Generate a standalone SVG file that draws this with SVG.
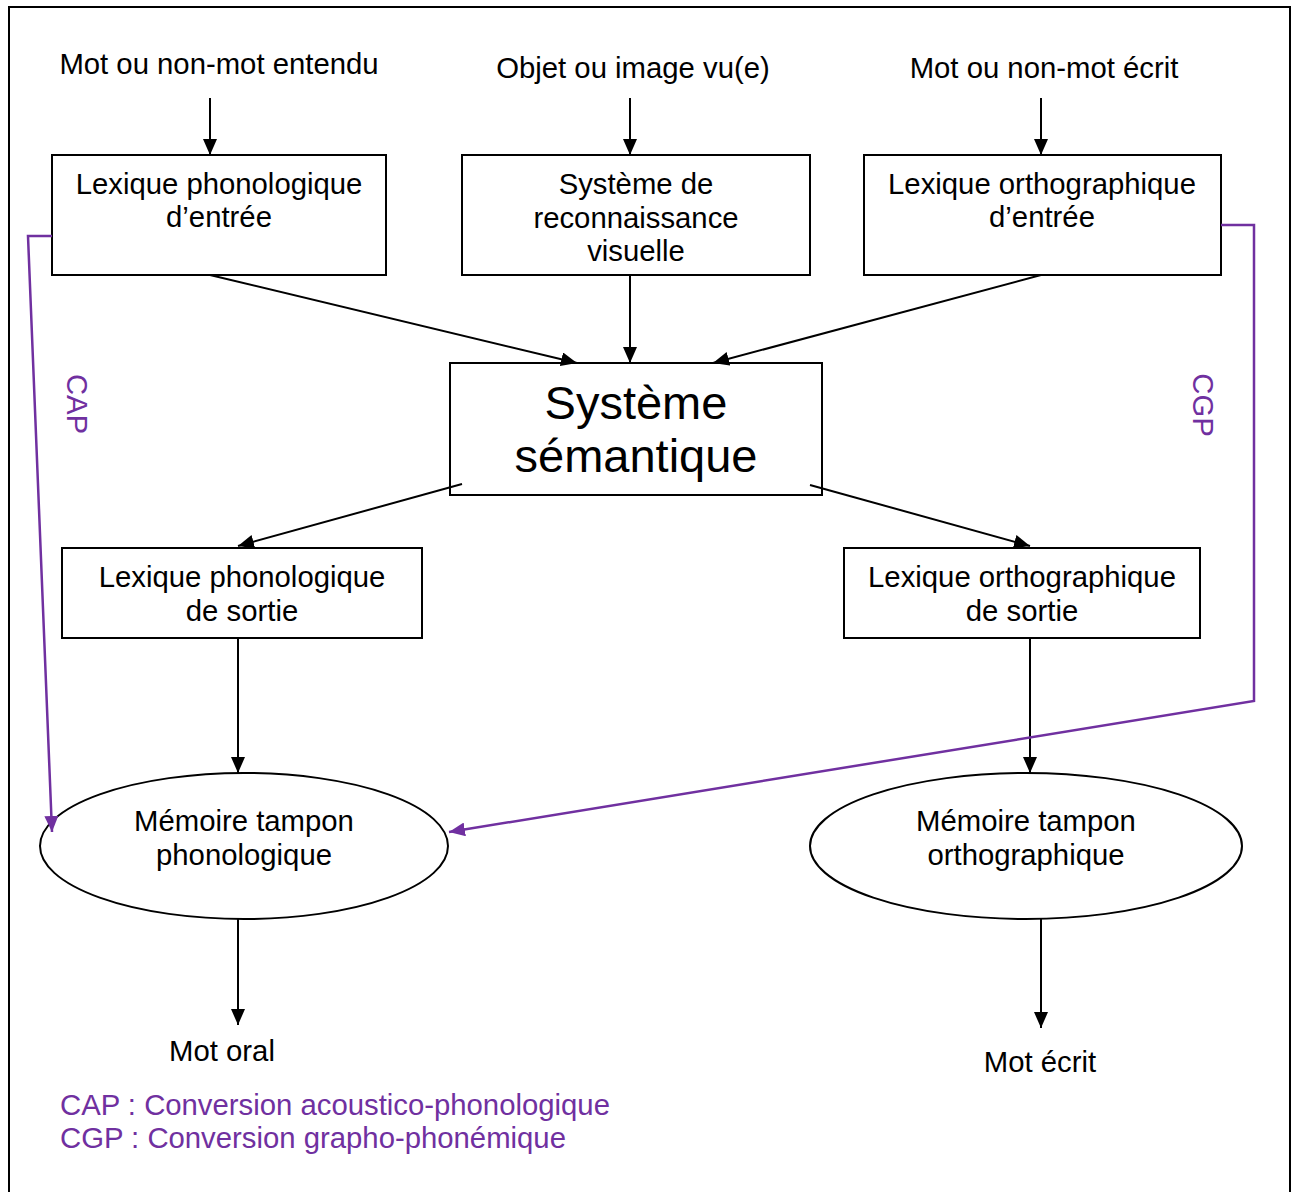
<svg xmlns="http://www.w3.org/2000/svg" width="1293" height="1192" viewBox="0 0 1293 1192">
<style>
text{font-family:"Liberation Sans",Arial,sans-serif;font-size:29.3px;fill:#000;text-anchor:middle}
.big{font-size:47px}
.pur{fill:#7030A0}
.leg{text-anchor:start}
.box{fill:#fff;stroke:#000;stroke-width:2}
.c{stroke:#000;stroke-width:2;fill:none;marker-end:url(#ab)}
.p{stroke:#7030A0;stroke-width:2.5;fill:none;marker-end:url(#ap)}
</style>
<defs>
<marker id="ab" markerUnits="userSpaceOnUse" markerWidth="16" markerHeight="14" refX="16" refY="7" orient="auto"><path d="M0,0L16,7L0,14z" fill="#000"/></marker>
<marker id="ap" markerUnits="userSpaceOnUse" markerWidth="16" markerHeight="14" refX="16" refY="7" orient="auto"><path d="M0,0L16,7L0,14z" fill="#7030A0"/></marker>
</defs>
<rect x="0" y="0" width="1293" height="1192" fill="#fff"/>
<rect x="9" y="7" width="1281" height="1200" fill="none" stroke="#000" stroke-width="2"/>

<g id="in-heard"><text x="219" y="74">Mot ou non-mot entendu</text></g>
<g id="in-seen"><text x="633" y="78">Objet ou image vu(e)</text></g>
<g id="in-written"><text x="1044" y="78">Mot ou non-mot écrit</text></g>

<g id="lex-phon-in"><rect class="box" x="52" y="155" width="334" height="120"/><text x="219" y="194">Lexique phonologique</text><text x="219" y="227">d’entrée</text></g>
<g id="visual"><rect class="box" x="462" y="155" width="348" height="120"/><text x="636" y="194">Système de</text><text x="636" y="228">reconnaissance</text><text x="636" y="261">visuelle</text></g>
<g id="lex-orth-in"><rect class="box" x="864" y="155" width="357" height="120"/><text x="1042" y="194">Lexique orthographique</text><text x="1042" y="227">d’entrée</text></g>
<g id="semantic"><rect class="box" x="450" y="363" width="372" height="132"/><text class="big" x="636" y="419">Système</text><text class="big" x="636" y="472">sémantique</text></g>
<g id="lex-phon-out"><rect class="box" x="62" y="548" width="360" height="90"/><text x="242" y="587">Lexique phonologique</text><text x="242" y="621">de sortie</text></g>
<g id="lex-orth-out"><rect class="box" x="844" y="548" width="356" height="90"/><text x="1022" y="587">Lexique orthographique</text><text x="1022" y="621">de sortie</text></g>
<g id="buf-phon"><ellipse class="box" cx="244" cy="846" rx="204" ry="73"/><text x="244" y="831">Mémoire tampon</text><text x="244" y="865">phonologique</text></g>
<g id="buf-orth"><ellipse class="box" cx="1026" cy="846" rx="216" ry="73"/><text x="1026" y="831">Mémoire tampon</text><text x="1026" y="865">orthographique</text></g>
<g id="out-oral"><text x="222" y="1061">Mot oral</text></g>
<g id="out-written"><text x="1040" y="1072">Mot écrit</text></g>

<g id="connectors">
<line class="c" x1="210" y1="98" x2="210" y2="155"/>
<line class="c" x1="630" y1="98" x2="630" y2="155"/>
<line class="c" x1="1041" y1="98" x2="1041" y2="155"/>
<line class="c" x1="210" y1="275" x2="577" y2="363"/>
<line class="c" x1="630" y1="275" x2="630" y2="363"/>
<line class="c" x1="1041" y1="275" x2="713" y2="363"/>
<line class="c" x1="462" y1="484" x2="238" y2="546"/>
<line class="c" x1="810" y1="485" x2="1030" y2="546"/>
<line class="c" x1="238" y1="638" x2="238" y2="773"/>
<line class="c" x1="1030" y1="638" x2="1030" y2="773"/>
<line class="c" x1="238" y1="919" x2="238" y2="1025"/>
<line class="c" x1="1041" y1="919" x2="1041" y2="1028"/>
<polyline class="p" points="52,236 28,236 52,832"/>
<polyline class="p" points="1221,225 1254,225 1254,701 449,832"/>
</g>

<g id="labels">
<text class="pur" transform="translate(67,404) rotate(90)">CAP</text>
<text class="pur" transform="translate(1193,405) rotate(90)">CGP</text>
<text class="pur leg" x="60" y="1115">CAP : Conversion acoustico-phonologique</text>
<text class="pur leg" x="60" y="1148">CGP : Conversion grapho-phonémique</text>
</g>
</svg>
